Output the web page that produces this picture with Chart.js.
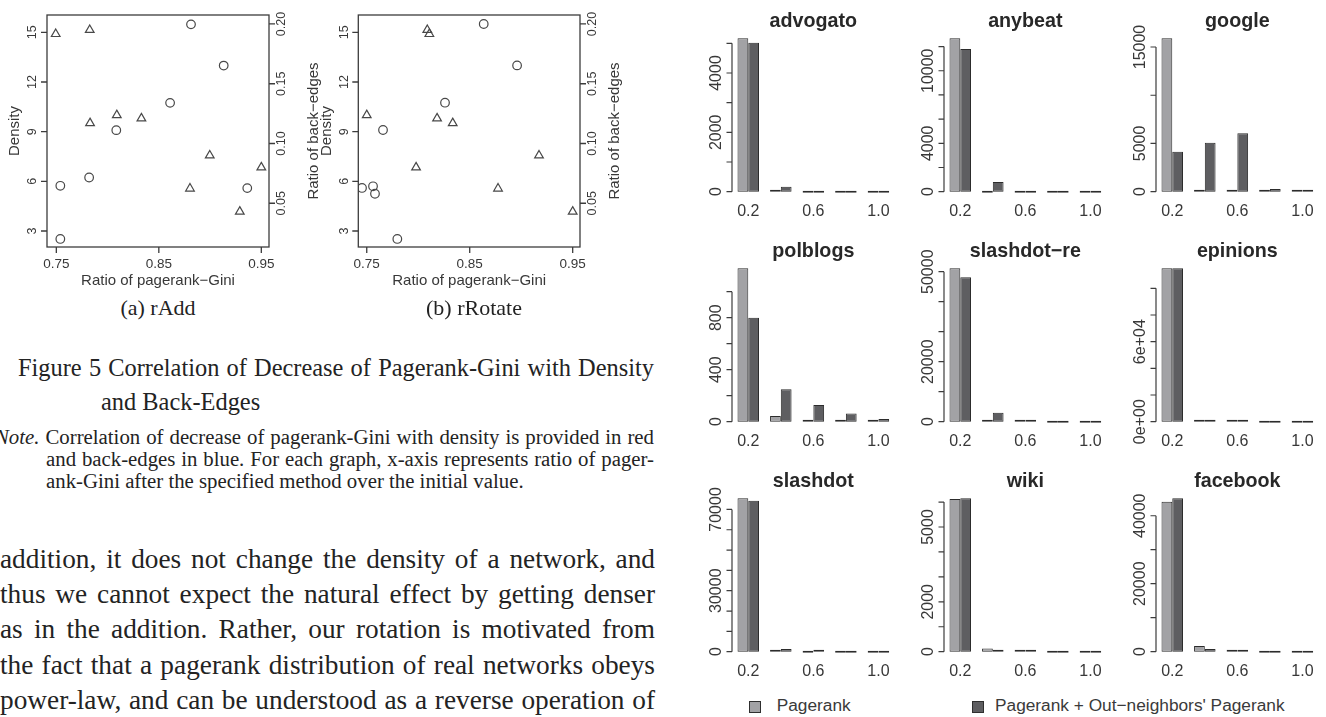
<!DOCTYPE html>
<html>
<head>
<meta charset="utf-8">
<script src="https://cdn.jsdelivr.net/npm/chart.js@4.4.1/dist/chart.umd.min.js"></script>
<style>
  html, body { margin: 0; padding: 0; background: #fff; }
  body { width: 1326px; height: 717px; overflow: hidden; position: relative;
         font-family: "Liberation Serif", "Times New Roman", serif; color: #232323; }
  canvas { position: absolute; }
  .ln { position: absolute; white-space: nowrap; }
  .just { white-space: normal; text-align: justify; text-align-last: justify; }
  .lg { position: absolute; font-family: "Liberation Sans", Arial, sans-serif; font-size: 17.3px;
        color: #3a3a3a; line-height: 17.3px; white-space: nowrap; }
  .sw { position: absolute; width: 10px; height: 10px; border: 1px solid #2f2f2f; }
</style>
</head>
<body>

<canvas id="scA" width="330" height="295" style="left:0;top:0"></canvas>
<canvas id="scB" width="360" height="295" style="left:290px;top:0"></canvas>

<div class="ln" style="left:58px;top:297px;width:200px;text-align:center;font-size:22px;line-height:22px">(a) rAdd</div>
<div class="ln" style="left:374px;top:297px;width:200px;text-align:center;font-size:22px;line-height:22px">(b) rRotate</div>

<div class="ln just" style="left:18px;top:356px;width:636px;font-size:24.4px;line-height:24.4px">Figure 5 Correlation of Decrease of Pagerank-Gini with Density</div>
<div class="ln" style="left:101px;top:389.6px;font-size:24.4px;line-height:24.4px">and Back-Edges</div>

<div class="ln just" style="left:-5px;top:426.7px;width:659px;font-size:20.8px;line-height:20.8px"><i>Note.</i> Correlation of decrease of pagerank-Gini with density is provided in red</div>
<div class="ln just" style="left:46px;top:448.7px;width:608px;font-size:20.8px;line-height:20.8px">and back-edges in blue. For each graph, x-axis represents ratio of pager-</div>
<div class="ln" style="left:46px;top:470.7px;font-size:20.8px;line-height:20.8px">ank-Gini after the specified method over the initial value.</div>

<div class="ln just" style="left:0;top:545.5px;width:655px;font-size:27.3px;line-height:27.3px">addition, it does not change the density of a network, and</div>
<div class="ln just" style="left:0;top:580.5px;width:655px;font-size:27.3px;line-height:27.3px">thus we cannot expect the natural effect by getting denser</div>
<div class="ln just" style="left:0;top:615.5px;width:655px;font-size:27.3px;line-height:27.3px">as in the addition. Rather, our rotation is motivated from</div>
<div class="ln just" style="left:0;top:651.5px;width:655px;font-size:27.3px;line-height:27.3px">the fact that a pagerank distribution of real networks obeys</div>
<div class="ln just" style="left:0;top:686.5px;width:655px;font-size:27.3px;line-height:27.3px">power-law, and can be understood as a reverse operation of</div>

<div id="bars"></div>
<div id="legend"></div>

<script>
// ---------------- scatter data (ratio of pagerank-Gini after each method) ----------------
const addGiniDen  = [0.7539, 0.7539, 0.7820, 0.8085, 0.8610, 0.8814, 0.9133, 0.9363];
const addDensity  = [5.73, 2.52, 6.23, 9.09, 10.74, 15.48, 12.99, 5.59];
const addGiniBack = [0.7494, 0.7826, 0.7829, 0.8090, 0.8330, 0.8804, 0.8997, 0.9290, 0.9500];
const addBackEdge = [0.1916, 0.1950, 0.1170, 0.1237, 0.1210, 0.0623, 0.0900, 0.0430, 0.0800];

const rotGiniDen  = [0.7454, 0.7561, 0.7580, 0.7658, 0.7797, 0.8260, 0.8636, 0.8960];
const rotDensity  = [5.60, 5.70, 5.25, 9.10, 2.52, 10.75, 15.50, 13.00];
const rotGiniBack = [0.7500, 0.7979, 0.8088, 0.8108, 0.8183, 0.8335, 0.8775, 0.9173, 0.9500];
const rotBackEdge = [0.1237, 0.0800, 0.1950, 0.1916, 0.1210, 0.1170, 0.0623, 0.0900, 0.0430];

const densityTicks = [3, 6, 9, 12, 15];
const backTicks    = [0.05, 0.10, 0.15, 0.20];
const backTickText = ['0.05', '0.10', '0.15', '0.20'];
const giniTicks    = [0.75, 0.85, 0.95];
const giniTickText = ['0.75', '0.85', '0.95'];

// ---------------- bar data: counts per pagerank-ratio bin ----------------
const bins      = ['0.2', '0.4', '0.6', '0.8', '1.0'];
const binShown  = ['0.2', '0.6', '1.0'];
const seriesNames = ['Pagerank', 'Pagerank + Out\u2212neighbors\' Pagerank'];

const advogatoPR  = [5168, 30, 0, 0, 0];
const advogatoOut = [5020, 168, 0, 0, 0];
const advogatoTicks = [0, 1000, 2000, 3000, 4000, 5000];
const advogatoTickText = ['0', '', '2000', '', '4000', ''];

const anybeatPR  = [12680, 0, 0, 0, 0];
const anybeatOut = [11790, 800, 0, 0, 0];
const anybeatTicks = [0, 2000, 4000, 6000, 8000, 10000, 12000];
const anybeatTickText = ['0', '', '4000', '', '', '10000', ''];

const googlePR  = [15900, 40, 60, 60, 20];
const googleOut = [4150, 5080, 6050, 280, 100];
const googleTicks = [0, 5000, 10000, 15000];
const googleTickText = ['0', '5000', '', '15000'];

const polblogsPR  = [1180, 44, 5, 5, 3];
const polblogsOut = [800, 249, 128, 62, 20];
const polblogsTicks = [0, 200, 400, 600, 800, 1000];
const polblogsTickText = ['0', '', '400', '', '800', ''];

const slashdotRePR  = [51130, 100, 150, 0, 0];
const slashdotReOut = [48130, 3000, 300, 0, 0];
const slashdotReTicks = [0, 10000, 20000, 30000, 40000, 50000];
const slashdotReTickText = ['0', '', '20000', '', '', '50000'];

const epinionsPR  = [115000, 600, 300, 0, 0];
const epinionsOut = [115000, 400, 100, 0, 0];
const epinionsTicks = [0, 20000, 40000, 60000, 80000, 100000];
const epinionsTickText = ['0e+00', '', '', '6e+04', '', ''];

const slashdotPR  = [75460, 150, 0, 0, 0];
const slashdotOut = [74280, 1330, 300, 0, 0];
const slashdotTicks = [0, 10000, 20000, 30000, 40000, 50000, 60000, 70000];
const slashdotTickText = ['0', '', '', '30000', '', '', '', '70000'];

const wikiPR  = [6126, 130, 20, 0, 0];
const wikiOut = [6150, 70, 40, 0, 0];
const wikiTicks = [0, 1000, 2000, 3000, 4000, 5000, 6000];
const wikiTickText = ['0', '', '2000', '', '', '5000', ''];

const facebookPR  = [44120, 1680, 100, 0, 0];
const facebookOut = [45120, 800, 50, 0, 0];
const facebookTicks = [0, 10000, 20000, 30000, 40000];
const facebookTickText = ['0', '', '20000', '', '40000'];

// ---------------- styling ----------------
const AXIS = '#3c3c3c';
const INK  = '#383838';
const MARK = '#484848';
const SANS = '"Liberation Sans", Arial, Helvetica, sans-serif';
const LIGHT = '#a2a2a5';
const DARK  = '#5e5e61';
const EDGE  = '#2c2c2c';

function rotatedText(ctx, s, x, y) {
  ctx.save();
  ctx.translate(x, y);
  ctx.rotate(-Math.PI / 2);
  ctx.fillText(s, 0, 0);
  ctx.restore();
}

// R-style boxed axes for the scatter plots
const rScatterAxes = {
  id: 'rscatter',
  afterDraw(chart, args, o) {
    const { ctx, chartArea: a, scales: { x, y, y2 } } = chart;
    ctx.save();
    ctx.strokeStyle = AXIS;
    ctx.lineWidth = 1.3;
    ctx.strokeRect(a.left, a.top, a.right - a.left, a.bottom - a.top);
    ctx.beginPath();
    densityTicks.forEach(v => { const p = y.getPixelForValue(v); ctx.moveTo(a.left, p); ctx.lineTo(a.left - 6, p); });
    giniTicks.forEach(v => { const p = x.getPixelForValue(v); ctx.moveTo(p, a.bottom); ctx.lineTo(p, a.bottom + 6); });
    backTicks.forEach(v => { const p = y2.getPixelForValue(v); ctx.moveTo(a.right, p); ctx.lineTo(a.right + 6, p); });
    ctx.stroke();

    ctx.fillStyle = INK;
    ctx.textAlign = 'center';
    ctx.textBaseline = 'alphabetic';
    ctx.font = `12.5px ${SANS}`;
    densityTicks.forEach(v => rotatedText(ctx, String(v), a.left - 10.6, y.getPixelForValue(v)));
    backTicks.forEach((v, i) => rotatedText(ctx, backTickText[i], a.right + o.rightTickGap, y2.getPixelForValue(v)));
    ctx.font = `13.5px ${SANS}`;
    giniTicks.forEach((v, i) => ctx.fillText(giniTickText[i], x.getPixelForValue(v), a.bottom + 21));

    ctx.font = `15px ${SANS}`;
    const cy = (a.top + a.bottom) / 2;
    rotatedText(ctx, 'Density', a.left - 27.8, cy);
    rotatedText(ctx, 'Ratio of back\u2212edges', a.right + o.rightTitleGap, cy);
    ctx.fillText('Ratio of pagerank\u2212Gini', (a.left + a.right) / 2, a.bottom + 38);
    ctx.restore();
  }
};

function scatter(id, giniD, dens, giniB, back, xr, pad, gaps) {
  new Chart(document.getElementById(id), {
    type: 'scatter',
    data: {
      datasets: [
        { data: giniD.map((g, i) => ({ x: g, y: dens[i] })), yAxisID: 'y',
          pointStyle: 'circle', pointRadius: 4.3, borderColor: MARK, borderWidth: 1.2,
          backgroundColor: 'rgba(0,0,0,0)' },
        { data: giniB.map((g, i) => ({ x: g, y: back[i] })), yAxisID: 'y2',
          pointStyle: 'triangle', pointRadius: 5, borderColor: MARK, borderWidth: 1.2,
          backgroundColor: 'rgba(0,0,0,0)' }
      ]
    },
    options: {
      responsive: false, animation: false, events: [],
      layout: { padding: pad },
      plugins: { legend: { display: false }, tooltip: { enabled: false },
                 rscatter: gaps },
      scales: {
        x:  { type: 'linear', display: false, min: xr[0], max: xr[1] },
        y:  { type: 'linear', display: false, min: 2.034, max: 16.045 },
        y2: { type: 'linear', display: false, position: 'right', min: 0.0134, max: 0.2075 }
      }
    },
    plugins: [rScatterAxes]
  });
}

scatter('scA', addGiniDen, addDensity, addGiniBack, addBackEdge, [0.7409, 0.9575],
        { left: 47, right: 61, top: 15, bottom: 48 }, { rightTickGap: 15.6, rightTitleGap: 48.8 });
scatter('scB', rotGiniDen, rotDensity, rotGiniBack, rotBackEdge, [0.7418, 0.9571],
        { left: 68.3, right: 70, top: 15, bottom: 48 }, { rightTickGap: 15.6, rightTitleGap: 38.5 });

// R-style left axis, bin labels and panel title for the bar panels
const rBarAxes = {
  id: 'rbar',
  afterDraw(chart, args, o) {
    const { ctx, chartArea: a, scales: { x, y } } = chart;
    const x0 = a.left;
    ctx.save();
    ctx.strokeStyle = AXIS;
    ctx.lineWidth = 1.2;
    ctx.beginPath();
    ctx.moveTo(x0, y.getPixelForValue(o.ticks[0]));
    ctx.lineTo(x0, y.getPixelForValue(o.ticks[o.ticks.length - 1]));
    o.ticks.forEach(v => { const p = y.getPixelForValue(v); ctx.moveTo(x0, p); ctx.lineTo(x0 - 5.5, p); });
    ctx.stroke();

    ctx.fillStyle = INK;
    ctx.textAlign = 'center';
    ctx.textBaseline = 'alphabetic';
    ctx.font = `16px ${SANS}`;
    o.ticks.forEach((v, i) => { if (o.tickText[i]) rotatedText(ctx, o.tickText[i], x0 - 11.4, y.getPixelForValue(v)); });
    const yb = y.getPixelForValue(0) + 24.3;
    chart.data.labels.forEach((s, i) => { if (binShown.includes(s)) ctx.fillText(s, x.getPixelForValue(i), yb); });
    ctx.font = `bold 19.7px ${SANS}`;
    ctx.fillStyle = '#282828';
    ctx.fillText(o.title, (a.left + a.right) / 2, a.top - 5.5);
    ctx.restore();
  }
};

const panels = [
  ['advogato', advogatoPR, advogatoOut, advogatoTicks, advogatoTickText],
  ['anybeat', anybeatPR, anybeatOut, anybeatTicks, anybeatTickText],
  ['google', googlePR, googleOut, googleTicks, googleTickText],
  ['polblogs', polblogsPR, polblogsOut, polblogsTicks, polblogsTickText],
  ['slashdot\u2212re', slashdotRePR, slashdotReOut, slashdotReTicks, slashdotReTickText],
  ['epinions', epinionsPR, epinionsOut, epinionsTicks, epinionsTickText],
  ['slashdot', slashdotPR, slashdotOut, slashdotTicks, slashdotTickText],
  ['wiki', wikiPR, wikiOut, wikiTicks, wikiTickText],
  ['facebook', facebookPR, facebookOut, facebookTicks, facebookTickText]
];

const host = document.getElementById('bars');
panels.forEach(([title, pr, out, ticks, tickText], k) => {
  const col = k % 3, row = Math.floor(k / 3);
  const plotLeft = 731.5 + col * 212.3;
  const cv = document.createElement('canvas');
  cv.width = 233; cv.height = 230;
  cv.style.left = (plotLeft - 60) + 'px';
  cv.style.top = (row * 230) + 'px';
  host.appendChild(cv);
  const top = Math.max(...pr, ...out);
  new Chart(cv, {
    type: 'bar',
    data: {
      labels: bins,
      datasets: [
        { label: seriesNames[0], data: pr, backgroundColor: LIGHT },
        { label: seriesNames[1], data: out, backgroundColor: DARK }
      ]
    },
    options: {
      responsive: false, animation: false, events: [],
      layout: { padding: { left: 60, right: 10.3, top: 32.2, bottom: 32.2 } },
      datasets: { bar: { borderColor: EDGE, borderWidth: 1, borderSkipped: false,
                         minBarLength: 2, categoryPercentage: 0.661, barPercentage: 1 } },
      plugins: { legend: { display: false }, tooltip: { enabled: false },
                 rbar: { title, ticks, tickText } },
      scales: {
        x: { type: 'category', display: false },
        y: { type: 'linear', display: false, min: -0.04 * top, max: 1.04 * top }
      }
    },
    plugins: [rBarAxes]
  });
});

// shared legend under the bar panels
const lg = document.getElementById('legend');
[[LIGHT, 749, 776.7], [DARK, 971.7, 995]].forEach(([c, sx, tx], i) => {
  const sw = document.createElement('div');
  sw.className = 'sw';
  sw.style.background = c; sw.style.left = sx + 'px'; sw.style.top = '700.5px';
  lg.appendChild(sw);
  const t = document.createElement('div');
  t.className = 'lg';
  t.textContent = seriesNames[i];
  t.style.left = tx + 'px'; t.style.top = '697px';
  lg.appendChild(t);
});
</script>
</body>
</html>
